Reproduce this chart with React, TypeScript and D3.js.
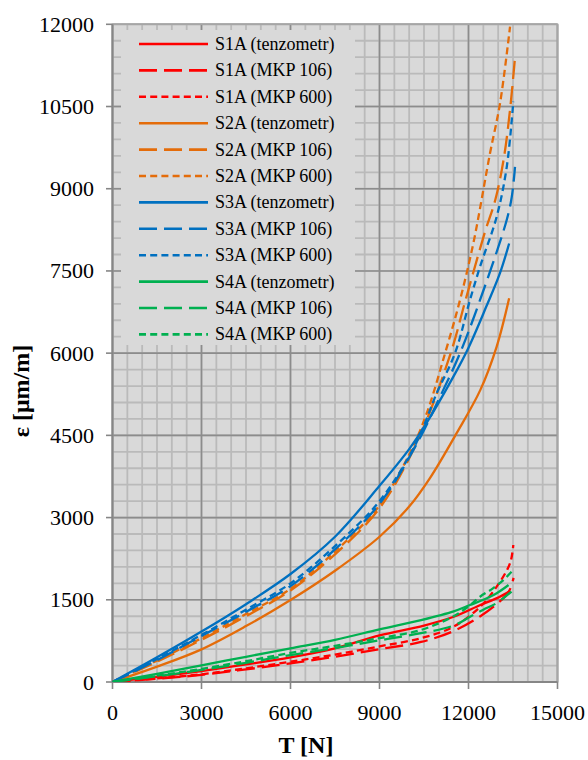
import React from "react";
import * as d3 from "d3";

// Tensile force T [N] and measured strain ε [μm/m] for each gauge/sensor

const S1A_TENZ_T = [0, 1500, 3000, 4500, 6000, 7500, 9000, 10500, 11500, 12400, 13000, 13400];
const S1A_TENZ_E = [0, 95, 200, 320, 450, 615, 850, 1030, 1190, 1405, 1540, 1660];

const S1A_106_T = [0, 1500, 3000, 4500, 6000, 7500, 9000, 10400, 11500, 12400, 12950, 13350, 13520];
const S1A_106_E = [0, 60, 130, 230, 340, 460, 600, 730, 930, 1200, 1420, 1640, 1900];

const S1A_600_T = [0, 1500, 3000, 4500, 6000, 7500, 9000, 10400, 11500, 12400, 12950, 13400, 13510];
const S1A_600_E = [0, 65, 140, 250, 370, 500, 650, 800, 1010, 1375, 1740, 2165, 2500];

const S2A_TENZ_T = [0, 1500, 3000, 4500, 6000, 7500, 9000, 10000, 10700, 11600, 12400, 12950, 13370];
const S2A_TENZ_E = [0, 280, 596, 1020, 1496, 2030, 2650, 3200, 3720, 4540, 5330, 6120, 7000];

const S2A_106_T = [0, 1500, 3000, 4500, 6000, 7500, 9000, 10300, 11400, 11900, 12560, 12900, 13180, 13400, 13570];
const S2A_106_E = [0, 370, 770, 1200, 1670, 2330, 3170, 4420, 6000, 6970, 8220, 8790, 9520, 10440, 11410];

const S2A_600_T = [0, 1500, 3000, 4500, 6000, 7500, 9000, 10000, 10590, 11210, 11714, 12163, 12725, 13063, 13400];
const S2A_600_E = [0, 390, 800, 1240, 1700, 2380, 3220, 4150, 4900, 5997, 6970, 8004, 9646, 10558, 11956];

const S3A_TENZ_T = [0, 1500, 3000, 4500, 6000, 7500, 9000, 10000, 10500, 11500, 12000, 12600, 13060, 13370];
const S3A_TENZ_E = [0, 450, 920, 1420, 1970, 2650, 3580, 4250, 4650, 5580, 6100, 6850, 7460, 8000];

const S3A_106_T = [0, 1500, 3000, 4500, 6000, 7500, 9000, 10200, 11150, 11714, 12390, 13288, 13460, 13568];
const S3A_106_E = [0, 400, 840, 1280, 1750, 2420, 3250, 4290, 5330, 6000, 6970, 8430, 8855, 9400];

const S3A_600_T = [0, 1500, 3000, 4500, 6000, 7500, 9000, 10200, 10930, 11546, 12050, 12390, 12950, 13290, 13510];
const S3A_600_E = [0, 420, 860, 1320, 1800, 2480, 3300, 4320, 5270, 6000, 6970, 7580, 8490, 9400, 10590];

const S4A_TENZ_T = [0, 1500, 3000, 4500, 6000, 7500, 9000, 10400, 11500, 12050, 12500, 12950, 13350];
const S4A_TENZ_E = [0, 150, 305, 460, 615, 770, 960, 1130, 1290, 1405, 1500, 1620, 1770];

const S4A_106_T = [0, 1500, 3000, 4500, 6000, 7500, 9000, 10400, 11500, 12050, 12500, 12950, 13450];
const S4A_106_E = [0, 105, 220, 350, 490, 620, 760, 890, 1030, 1190, 1320, 1440, 1650];

const S4A_600_T = [0, 1500, 3000, 4500, 6000, 7500, 9000, 10400, 11500, 12000, 12400, 12800, 13175, 13510];
const S4A_600_E = [0, 115, 240, 380, 530, 660, 800, 950, 1200, 1380, 1560, 1700, 1860, 2045];

const X_TICKS = [0, 3000, 6000, 9000, 12000, 15000];
const Y_TICKS = [0, 1500, 3000, 4500, 6000, 7500, 9000, 10500, 12000];

const RED = "#FF0000";
const ORANGE = "#E46C0A";
const BLUE = "#0070C0";
const GREEN = "#00B050";

const DASH_LONG = "18,7";
const DASH_SHORT = "7,4.2";

const SERIES = [
  { label: "S1A (tenzometr)", t: S1A_TENZ_T, e: S1A_TENZ_E, color: RED, dash: null },
  { label: "S1A (MKP 106)", t: S1A_106_T, e: S1A_106_E, color: RED, dash: DASH_LONG },
  { label: "S1A (MKP 600)", t: S1A_600_T, e: S1A_600_E, color: RED, dash: DASH_SHORT },
  { label: "S2A (tenzometr)", t: S2A_TENZ_T, e: S2A_TENZ_E, color: ORANGE, dash: null },
  { label: "S2A (MKP 106)", t: S2A_106_T, e: S2A_106_E, color: ORANGE, dash: DASH_LONG },
  { label: "S2A (MKP 600)", t: S2A_600_T, e: S2A_600_E, color: ORANGE, dash: DASH_SHORT },
  { label: "S3A (tenzometr)", t: S3A_TENZ_T, e: S3A_TENZ_E, color: BLUE, dash: null },
  { label: "S3A (MKP 106)", t: S3A_106_T, e: S3A_106_E, color: BLUE, dash: DASH_LONG },
  { label: "S3A (MKP 600)", t: S3A_600_T, e: S3A_600_E, color: BLUE, dash: DASH_SHORT },
  { label: "S4A (tenzometr)", t: S4A_TENZ_T, e: S4A_TENZ_E, color: GREEN, dash: null },
  { label: "S4A (MKP 106)", t: S4A_106_T, e: S4A_106_E, color: GREEN, dash: DASH_LONG },
  { label: "S4A (MKP 600)", t: S4A_600_T, e: S4A_600_E, color: GREEN, dash: DASH_SHORT },
];

const FONT = "'Liberation Serif', 'DejaVu Serif', serif";

export default function App() {
  const W = 588;
  const H = 760;
  const left = 112.5;
  const right = 557.5;
  const top = 24.3;
  const bottom = 682;

  const x = d3.scaleLinear().domain([0, 15000]).range([left, right]);
  const y = d3.scaleLinear().domain([0, 12000]).range([bottom, top]);

  const line = d3
    .line<[number, number]>()
    .x((d) => x(d[0]))
    .y((d) => y(d[1]))
    .curve(d3.curveCatmullRom.alpha(0.5));

  const minorX = d3.range(0, 15001, 500);
  const minorY = d3.range(0, 12001, 300);

  const legend = { x: 121, y: 30, w: 234, h: 315, first: 44, step: 26.4 };

  const serif = { fontFamily: FONT };

  return (
    <svg
      width={W}
      height={H}
      style={{ position: "absolute", left: 0, top: 0, background: "#fff" }}
    >
      <defs>
        <clipPath id="plot-clip">
          <rect x={left} y={top - 2} width={right - left} height={bottom - top + 2} />
        </clipPath>
      </defs>

      {/* plot background */}
      <rect x={left} y={top} width={right - left} height={bottom - top} fill="#d9d9d9" />

      {/* minor grid */}
      {minorX.map((v) => (
        <line key={"mx" + v} x1={x(v)} x2={x(v)} y1={top} y2={bottom} stroke="#bababa" strokeWidth={1.8} />
      ))}
      {minorY.map((v) => (
        <line key={"my" + v} x1={left} x2={right} y1={y(v)} y2={y(v)} stroke="#bababa" strokeWidth={1.8} />
      ))}

      {/* major grid */}
      {X_TICKS.map((v) => (
        <line key={"gx" + v} x1={x(v)} x2={x(v)} y1={top} y2={bottom} stroke="#8c8c8c" strokeWidth={1.6} />
      ))}
      {Y_TICKS.map((v) => (
        <line key={"gy" + v} x1={left} x2={right} y1={y(v)} y2={y(v)} stroke="#8c8c8c" strokeWidth={1.6} />
      ))}

      {/* plot border */}
      <rect x={left} y={top} width={right - left} height={bottom - top} fill="none" stroke="#a6a6a6" strokeWidth={1.6} />

      {/* axes and tick marks */}
      <line x1={left} x2={left} y1={top} y2={bottom} stroke="#868686" strokeWidth={1.8} />
      <line x1={left} x2={right} y1={bottom} y2={bottom} stroke="#868686" strokeWidth={1.8} />
      {Y_TICKS.map((v) => (
        <line key={"ty" + v} x1={left - 6.5} x2={left} y1={y(v)} y2={y(v)} stroke="#868686" strokeWidth={1.6} />
      ))}
      {X_TICKS.map((v) => (
        <line key={"tx" + v} x1={x(v)} x2={x(v)} y1={bottom} y2={bottom + 7} stroke="#868686" strokeWidth={1.6} />
      ))}

      {/* series */}
      <g clipPath="url(#plot-clip)">
        {SERIES.map((s) => (
          <path
            key={s.label}
            d={line(s.t.map((t, i) => [t, s.e[i]] as [number, number])) || ""}
            fill="none"
            stroke={s.color}
            strokeWidth={2.3}
            strokeDasharray={s.dash || undefined}
            strokeLinecap="butt"
            strokeLinejoin="round"
          />
        ))}
      </g>

      {/* legend */}
      <rect x={legend.x} y={legend.y} width={legend.w} height={legend.h} fill="#d9d9d9" />
      {SERIES.map((s, i) => {
        const cy = legend.first + i * legend.step;
        return (
          <g key={"lg" + s.label}>
            <line
              x1={139}
              x2={208}
              y1={cy}
              y2={cy}
              stroke={s.color}
              strokeWidth={2.6}
              strokeDasharray={s.dash || undefined}
            />
            <text x={215} y={cy + 6} style={serif} fontSize={18} fill="#000">
              {s.label}
            </text>
          </g>
        );
      })}

      {/* tick labels */}
      {Y_TICKS.map((v) => (
        <text key={"ly" + v} x={94} y={y(v) + 7.5} textAnchor="end" style={serif} fontSize={22} fill="#000">
          {v}
        </text>
      ))}
      {X_TICKS.map((v) => (
        <text key={"lx" + v} x={x(v)} y={720} textAnchor="middle" style={serif} fontSize={22} fill="#000">
          {v}
        </text>
      ))}

      {/* axis titles */}
      <text x={306} y={753} textAnchor="middle" style={serif} fontSize={24} fontWeight="bold" fill="#000">
        T [N]
      </text>
      <text
        transform="translate(29,391) rotate(-90)"
        textAnchor="middle"
        style={serif}
        fontSize={24}
        fontWeight="bold"
        fill="#000"
      >
        ε [μm/m]
      </text>
    </svg>
  );
}
